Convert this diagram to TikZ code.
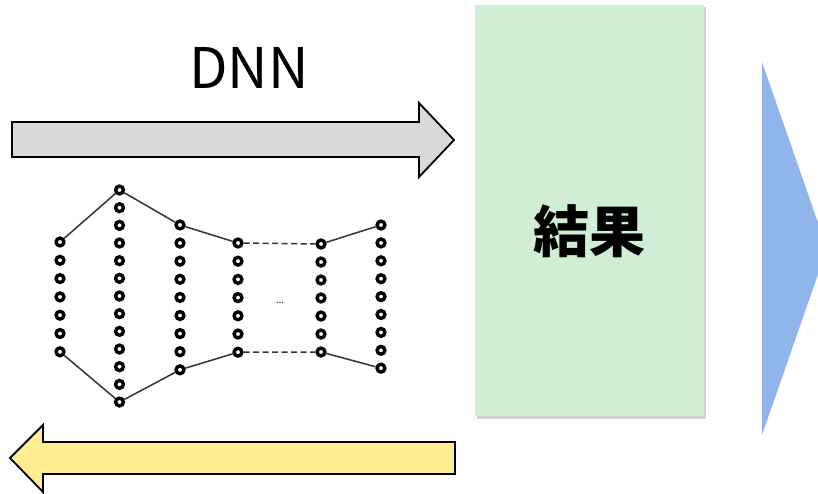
\documentclass[tikz,border=0pt]{standalone}
\usepackage{fontspec}
\newfontfamily\cjk{Noto Sans CJK JP}
\usetikzlibrary{shadows}
\definecolor{resgreen}{HTML}{D0EED5}
\definecolor{fwdgray}{HTML}{D9D9D9}
\definecolor{backyellow}{HTML}{FFEE91}
\definecolor{outblue}{HTML}{8FB5EC}
\begin{document}
\begin{tikzpicture}[x=1pt,y=-1pt,
  neuron/.style={circle, draw=black, line width=3.4pt, inner sep=0pt, minimum size=7.8pt, fill=white},
  link/.style={line width=1.5pt, black!80},
  dashlink/.style={link, dash pattern=on 6pt off 3.5pt},
  arrowbody/.style={draw=black, line width=1.8pt, line join=miter},
  caption/.style={inner sep=0pt, font=\cjk}]
  \useasboundingbox (0,0) rectangle (818,494);
  \clip (0,0) rectangle (818,494);

  % forward pass arrow
  \draw[arrowbody, fill=fwdgray]
    (12,122) -- (419,122) -- (419,103) -- (454,140) -- (419,177) -- (419,157) -- (12,157) -- cycle;
  \node[caption, font=\cjk\fontsize{56}{56}\selectfont] (dnn) at (249,68) {DNN};

  % backward pass arrow
  \draw[arrowbody, fill=backyellow]
    (455,442) -- (43,442) -- (43,425) -- (10,458) -- (43,492) -- (43,474) -- (455,474) -- cycle;

  % result box
  \node[fill=resgreen, minimum width=229pt, minimum height=411pt, inner sep=0pt,
        drop shadow={shadow xshift=1.5pt, shadow yshift=-2.5pt, opacity=0.35}] (res) at (589.5,210.5) {};
  \node[caption, font=\cjk\bfseries\fontsize{56}{56}\selectfont] (restext) at (589,231) {結果};

  % output wedge
  \fill[outblue] (762,62) -- (827,248.5) -- (762,435) -- cycle;

  % network layers: column index / x / number of units / top y / spacing
  \foreach \c/\x/\n/\t/\s in {1/60/7/242/18.3, 2/119.5/13/190/17.67, 3/180/9/225/18.1,
                              4/238/7/243/18.2, 5/321/7/244/18, 6/381/9/225/17.9}{
    \foreach \k in {1,...,\n}{
      \node[neuron] (c\c-\k) at (\x,{\t+(\k-1)*\s}) {};
    }
  }
  \draw[link] (c1-1) -- (c2-1) -- (c3-1) -- (c4-1);
  \draw[link] (c1-7) -- (c2-13) -- (c3-9) -- (c4-7);
  \draw[dashlink] (c4-1) -- (c5-1);
  \draw[dashlink] (c4-7) -- (c5-7);
  \draw[link] (c5-1) -- (c6-1);
  \draw[link] (c5-7) -- (c6-9);
  \node[inner sep=0pt, font=\fontsize{16}{16}\selectfont] (gap) at (280,303) {\dots};
\end{tikzpicture}
\end{document}
